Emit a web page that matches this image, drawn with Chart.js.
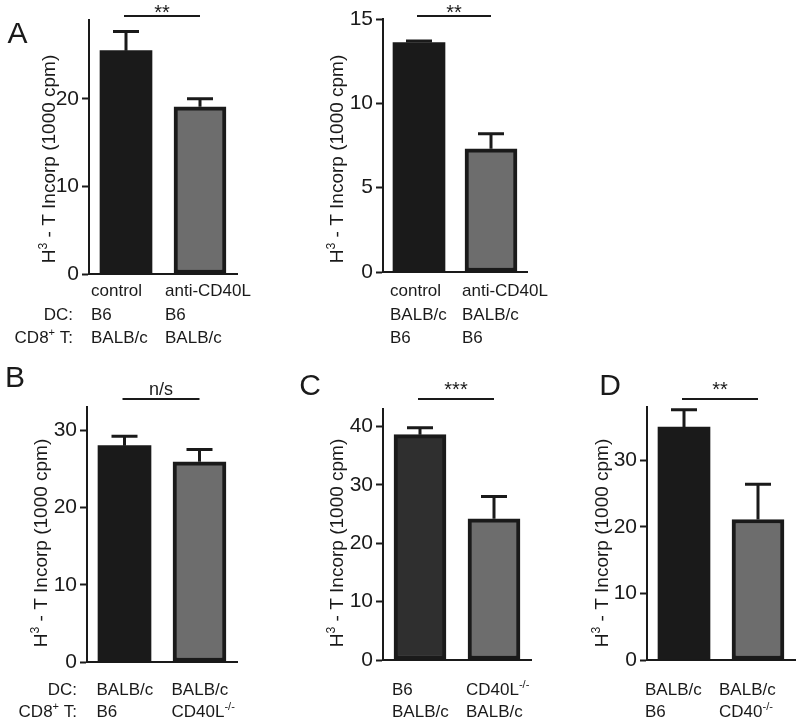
<!DOCTYPE html>
<html>
<head>
<meta charset="utf-8">
<script src="https://cdn.jsdelivr.net/npm/chart.js@4.4.0/dist/chart.umd.min.js"></script>
<style>
  html, body { margin: 0; padding: 0; background: #fff; }
  #wrap { position: relative; width: 800px; height: 724px; }
  #wrap canvas { position: absolute; left: 0; top: 0; }
</style>
</head>
<body>
<div id="wrap">
  <canvas id="pA1" width="800" height="724"></canvas>
  <canvas id="pA2" width="800" height="724"></canvas>
  <canvas id="pB" width="800" height="724"></canvas>
  <canvas id="pC" width="800" height="724"></canvas>
  <canvas id="pD" width="800" height="724"></canvas>
</div>
<script>
const FONT = '"Liberation Sans", Arial, Helvetica, sans-serif';
const INK = '#1a1a1a';
const YW = 50; // room kept for the y tick labels

// A (left) - B6 DC with BALB/c CD8+ T
const a1Groups = ['control', 'anti-CD40L'];
const a1Means = [25.5, 19.1];
const a1Sem = [2.2, 0.9];
const a1Ticks = [0, 10, 20];
const a1Rows = [['control', 'B6', 'BALB/c'], ['anti-CD40L', 'B6', 'BALB/c']];

// A (right) - BALB/c DC with B6 CD8+ T
const a2Groups = ['control', 'anti-CD40L'];
const a2Means = [13.6, 7.3];
const a2Sem = [0.1, 0.9];
const a2Ticks = [0, 5, 10, 15];
const a2Rows = [['control', 'BALB/c', 'B6'], ['anti-CD40L', 'BALB/c', 'B6']];

// B
const bGroups = ['B6', 'CD40L-/-'];
const bMeans = [28.0, 25.9];
const bSem = [1.2, 1.6];
const bTicks = [0, 10, 20, 30];
const bRows = [['BALB/c', 'B6'], ['BALB/c', 'CD40L<-/->']];

// C
const cGroups = ['B6', 'CD40L-/-'];
const cMeans = [38.6, 24.2];
const cSem = [1.2, 3.8];
const cTicks = [0, 10, 20, 30, 40];
const cRows = [['B6', 'BALB/c'], ['CD40L<-/->', 'BALB/c']];

// D
const dGroups = ['BALB/c', 'BALB/c CD40-/-'];
const dMeans = [35.0, 21.1];
const dSem = [2.6, 5.3];
const dTicks = [0, 10, 20, 30];
const dRows = [['BALB/c', 'B6'], ['BALB/c', 'CD40<-/->']];

const topHeads = ['', 'DC:', 'CD8<+> T:'];
const bottomHeads = ['DC:', 'CD8<+> T:'];
const yTitle = 'H<3> - T Incorp (1000 cpm)';

// text with <sup> parts
function drawRich(ctx, str, x, y, size, align) {
  const parts = str.split(/<([^>]*)>/).map((t, i) => ({ t: t, sup: i % 2 === 1 })).filter(p => p.t);
  let w = 0;
  parts.forEach(p => {
    ctx.font = (p.sup ? size * 0.65 : size) + 'px ' + FONT;
    p.w = ctx.measureText(p.t).width;
    w += p.w;
  });
  let cx = align === 'right' ? x - w : align === 'center' ? x - w / 2 : x;
  ctx.textAlign = 'left';
  ctx.textBaseline = 'alphabetic';
  parts.forEach(p => {
    ctx.font = (p.sup ? size * 0.65 : size) + 'px ' + FONT;
    ctx.fillText(p.t, cx, p.sup ? y - size * 0.42 : y);
    cx += p.w;
  });
}

// text centred on its own glyph box
function drawCentred(ctx, t, x, y, size) {
  ctx.font = size + 'px ' + FONT;
  ctx.textAlign = 'center';
  ctx.textBaseline = 'alphabetic';
  const m = ctx.measureText(t);
  ctx.fillText(t, x, y + (m.actualBoundingBoxAscent - m.actualBoundingBoxDescent) / 2);
}

function makeDeco(o) {
  return {
    id: 'deco',
    afterDatasetsDraw(chart) {
      const ctx = chart.ctx, xs = chart.scales.x, ys = chart.scales.y, area = chart.chartArea;
      ctx.save();
      ctx.fillStyle = INK;
      ctx.strokeStyle = INK;
      ctx.lineWidth = 3;

      // error bars (upper only)
      o.means.forEach((m, i) => {
        const cx = xs.getPixelForValue(i);
        const y0 = ys.getPixelForValue(m);
        const y1 = ys.getPixelForValue(m + o.sem[i]);
        ctx.beginPath();
        ctx.moveTo(cx, y0);
        ctx.lineTo(cx, y1);
        ctx.moveTo(cx - 13, y1);
        ctx.lineTo(cx + 13, y1);
        ctx.stroke();
      });

      // significance bar
      const ly = area.top - o.sigGap;
      const lx0 = xs.getPixelForValue(0) - 2, lx1 = xs.getPixelForValue(1);
      ctx.lineWidth = 2;
      ctx.beginPath();
      ctx.moveTo(lx0, ly);
      ctx.lineTo(lx1, ly);
      ctx.stroke();
      drawCentred(ctx, o.sig, (lx0 + lx1) / 2, ly + o.sigLift, o.sig === 'n/s' ? 18 : 20);

      // category labels under the bars
      o.rows.forEach((lines, i) => {
        const x0 = xs.getPixelForValue(i) + o.labelShift;
        lines.forEach((t, j) => drawRich(ctx, t, x0, o.rowY[j], 17, 'left'));
      });
      if (o.heads) {
        o.heads.forEach((t, j) => { if (t) drawRich(ctx, t, o.headX, o.rowY[j], 17, 'right'); });
      }

      // y title
      ctx.save();
      ctx.translate(area.left - o.titleGap, o.titleMid);
      ctx.rotate(-Math.PI / 2);
      drawRich(ctx, yTitle, 0, 0, 19, 'center');
      ctx.restore();

      // panel letter
      if (o.letter) drawCentred(ctx, o.letter, o.letterAt[0], o.letterAt[1], 30);
      ctx.restore();
    }
  };
}

function panel(id, groups, means, sem, ticks, yMax, fills, o) {
  o.means = means;
  o.sem = sem;
  new Chart(document.getElementById(id), {
    type: 'bar',
    data: {
      labels: groups,
      datasets: [{
        data: means,
        backgroundColor: fills,
        borderColor: INK,
        // solid black bars need no separate outline
        borderWidth: c => (fills[c.dataIndex] === INK ? 0 : 4),
        borderSkipped: false,
        barThickness: o.barW
      }]
    },
    options: {
      responsive: false,
      animation: false,
      events: [],
      layout: { padding: { left: o.box[0] - YW, top: o.box[1], right: 800 - o.box[2], bottom: 724 - o.box[3] } },
      plugins: { legend: { display: false }, tooltip: { enabled: false } },
      scales: {
        x: {
          afterFit: s => { s.height = 0; },
          ticks: { display: false },
          grid: { display: false },
          border: { display: true, color: INK, width: 2 }
        },
        y: {
          min: 0,
          max: yMax,
          afterFit: s => { s.width = YW; },
          afterBuildTicks: s => { s.ticks = ticks.map(v => ({ value: v })); },
          ticks: { font: { family: FONT, size: 21 }, color: INK, padding: 3 },
          grid: { drawOnChartArea: false, tickLength: 7, tickWidth: 2, tickColor: INK },
          border: { display: true, color: INK, width: 2 }
        }
      }
    },
    plugins: [makeDeco(o)]
  });
}

const GREY = '#6d6d6d';

panel('pA1', a1Groups, a1Means, a1Sem, a1Ticks, 29, [INK, GREY], {
  box: [89, 20, 237, 274], barW: 52, sig: '**', sigGap: 4, sigLift: -7,
  rows: a1Rows, rowY: [296, 320, 343], labelShift: -35, heads: topHeads, headX: 73,
  titleGap: 34, titleMid: 159, letter: 'A', letterAt: [17.5, 33]
});
panel('pA2', a2Groups, a2Means, a2Sem, a2Ticks, 15, [INK, GREY], {
  box: [383, 19, 527, 272], barW: 52, sig: '**', sigGap: 3, sigLift: -7,
  rows: a2Rows, rowY: [296, 320, 343], labelShift: -29,
  titleGap: 40, titleMid: 159, letter: '', letterAt: [0, 0]
});
panel('pB', bGroups, bMeans, bSem, bTicks, 33, [INK, GREY], {
  box: [87, 407, 237, 662], barW: 53, sig: 'n/s', sigGap: 8, sigLift: -11,
  rows: bRows, rowY: [695, 717], labelShift: -28, heads: bottomHeads, headX: 77,
  titleGap: 40, titleMid: 543, letter: 'B', letterAt: [15, 377]
});
panel('pC', cGroups, cMeans, cSem, cTicks, 43, ['#2f2f2f', GREY], {
  box: [383, 409, 531, 660], barW: 52, sig: '***', sigGap: 10, sigLift: -13.5,
  rows: cRows, rowY: [695, 717], labelShift: -28,
  titleGap: 40, titleMid: 543, letter: 'C', letterAt: [310, 385]
});
panel('pD', dGroups, dMeans, dSem, dTicks, 38, [INK, GREY], {
  box: [647, 407, 795, 660], barW: 52, sig: '**', sigGap: 8, sigLift: -13,
  rows: dRows, rowY: [695, 717], labelShift: -39,
  titleGap: 39, titleMid: 543, letter: 'D', letterAt: [610, 385]
});
</script>
</body>
</html>
